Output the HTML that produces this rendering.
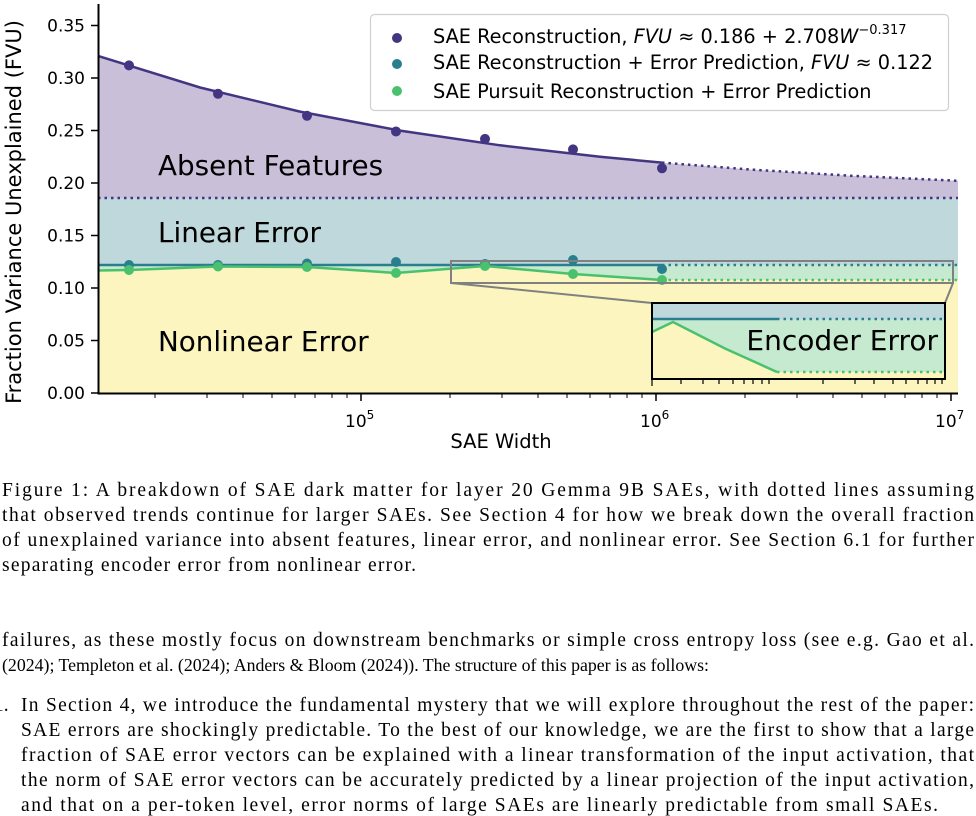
<!DOCTYPE html>
<html><head><meta charset="utf-8"><style>
html,body{margin:0;padding:0;background:#fff;width:976px;height:816px;overflow:hidden}
svg{display:block}
.t{font-family:"DejaVu Sans","Liberation Sans",sans-serif;fill:#000}
.s{font-family:"Liberation Serif",serif;font-size:19.5px;fill:#000}
</style></head><body>
<svg width="976" height="816" viewBox="0 0 976 816" xmlns="http://www.w3.org/2000/svg">
<path d="M98,55.9 L200,87.5 L300,111.6 L400,130.6 L500,145.3 L600,156.8 L662,162.6 L750,169.5 L850,175.7 L958,180.8 L958,198 L98,198 Z" fill="#c9bfd9"/>
<rect x="98" y="198" width="860" height="67" fill="#bfd8dc"/>
<path d="M98,265 L958,265 L958,280 L662,280 L573,274 L485,266 L396,273 L307,267 L218,266.5 L129,270 L98,270.5 Z" fill="#c5ead0"/>
<path d="M98,270.5 L129,270 L218,266.5 L307,267 L396,273 L485,266 L573,274 L662,280 L958,280 L958,393 L98,393 Z" fill="#fcf5bf"/>
<path d="M98,55.9 L200,87.5 L300,111.6 L400,130.6 L500,145.3 L600,156.8 L662,162.6" fill="none" stroke="#433582" stroke-width="2.5"/>
<path d="M662,162.6 L750,169.5 L850,175.7 L958,180.8" fill="none" stroke="#433582" stroke-width="2.5" stroke-dasharray="2.5,4"/>
<line x1="98" y1="198" x2="958" y2="198" stroke="#433582" stroke-width="2.5" stroke-dasharray="2.5,4"/>
<line x1="98" y1="265" x2="662" y2="265" stroke="#2a7f8e" stroke-width="2.5"/>
<line x1="662" y1="265" x2="958" y2="265" stroke="#2a7f8e" stroke-width="2.5" stroke-dasharray="2.5,4"/>
<path d="M98,270.5 L129,270 L218,266.5 L307,267 L396,273 L485,266 L573,274 L662,280" fill="none" stroke="#4ac16d" stroke-width="2.5"/>
<line x1="662" y1="280" x2="958" y2="280" stroke="#4ac16d" stroke-width="2.5" stroke-dasharray="2.5,4"/>
<g fill="#433582">
<circle cx="129" cy="65.4" r="5"/><circle cx="218" cy="93.8" r="5"/><circle cx="307" cy="115.8" r="5"/><circle cx="396" cy="131.5" r="5"/><circle cx="485" cy="138.9" r="5"/><circle cx="573" cy="149.4" r="5"/><circle cx="662" cy="168.3" r="5"/>
</g>
<g fill="#2a7f8e">
<circle cx="129" cy="265" r="5"/><circle cx="218" cy="265" r="5"/><circle cx="307" cy="263.5" r="5"/><circle cx="396" cy="262" r="5"/><circle cx="485" cy="264" r="5"/><circle cx="573" cy="260" r="5"/><circle cx="662" cy="269" r="5"/>
</g>
<g fill="#4ac16d">
<circle cx="129" cy="270" r="5"/><circle cx="218" cy="266.5" r="5"/><circle cx="307" cy="267" r="5"/><circle cx="396" cy="273" r="5"/><circle cx="485" cy="266" r="5"/><circle cx="573" cy="274" r="5"/><circle cx="662" cy="280" r="5"/>
</g>
<rect x="451" y="261" width="502" height="22" fill="none" stroke="#808080" stroke-width="2"/>
<line x1="451" y1="283" x2="652" y2="303" stroke="#808080" stroke-width="2"/>
<line x1="953" y1="283" x2="945" y2="303" stroke="#808080" stroke-width="2"/>
<rect x="652" y="303" width="293" height="76" fill="#c5ead0"/>
<rect x="652" y="303" width="293" height="16.5" fill="#bfd8dc"/>
<path d="M652,332 L673,322 L725,348.5 L777,372 L945,372 L945,379 L652,379 Z" fill="#fcf5bf"/>
<line x1="652" y1="319" x2="777" y2="319" stroke="#2a7f8e" stroke-width="2.5"/>
<line x1="777" y1="319" x2="945" y2="319" stroke="#2a7f8e" stroke-width="2.5" stroke-dasharray="2.5,4"/>
<path d="M652,332 L673,322 L725,348.5 L777,372" fill="none" stroke="#4ac16d" stroke-width="2.5"/>
<line x1="777" y1="372" x2="945" y2="372" stroke="#4ac16d" stroke-width="2.5" stroke-dasharray="2.5,4"/>
<text x="938" y="350" text-anchor="end" class="t" font-size="28">Encoder Error</text>
<rect x="652" y="303" width="293" height="76" fill="none" stroke="#000" stroke-width="2"/>
<g stroke="#000" stroke-width="1.2">
<line x1="652" y1="379" x2="652" y2="386"/><line x1="681" y1="379" x2="681" y2="384"/><line x1="703" y1="379" x2="703" y2="384"/><line x1="719" y1="379" x2="719" y2="384"/><line x1="733" y1="379" x2="733" y2="384"/><line x1="744" y1="379" x2="744" y2="384"/><line x1="753" y1="379" x2="753" y2="384"/><line x1="762" y1="379" x2="762" y2="384"/><line x1="769" y1="379" x2="769" y2="384"/><line x1="823" y1="379" x2="823" y2="384"/><line x1="855" y1="379" x2="855" y2="384"/><line x1="874" y1="379" x2="874" y2="384"/><line x1="893" y1="379" x2="893" y2="384"/><line x1="906" y1="379" x2="906" y2="384"/><line x1="918" y1="379" x2="918" y2="384"/><line x1="927" y1="379" x2="927" y2="384"/><line x1="935" y1="379" x2="935" y2="384"/><line x1="942" y1="379" x2="942" y2="384"/>
</g>
<text x="158" y="175" class="t" font-size="27.8">Absent Features</text>
<text x="158" y="242" class="t" font-size="27.8">Linear Error</text>
<text x="158" y="351" class="t" font-size="27.8">Nonlinear Error</text>
<line x1="98.5" y1="4" x2="98.5" y2="394" stroke="#000" stroke-width="2"/>
<line x1="97.5" y1="393.5" x2="958" y2="393.5" stroke="#000" stroke-width="2"/>
<g stroke="#000" stroke-width="1.5">
<line x1="91" y1="393" x2="98" y2="393"/><line x1="91" y1="340.5" x2="98" y2="340.5"/><line x1="91" y1="288" x2="98" y2="288"/><line x1="91" y1="235.5" x2="98" y2="235.5"/><line x1="91" y1="183" x2="98" y2="183"/><line x1="91" y1="130.5" x2="98" y2="130.5"/><line x1="91" y1="78" x2="98" y2="78"/><line x1="91" y1="25.5" x2="98" y2="25.5"/>
<line x1="361" y1="394" x2="361" y2="401"/><line x1="656" y1="394" x2="656" y2="401"/><line x1="951" y1="394" x2="951" y2="401"/>
</g>
<g stroke="#000" stroke-width="1">
<line x1="155" y1="394" x2="155" y2="398"/><line x1="207" y1="394" x2="207" y2="398"/><line x1="243" y1="394" x2="243" y2="398"/><line x1="272" y1="394" x2="272" y2="398"/><line x1="295" y1="394" x2="295" y2="398"/><line x1="315" y1="394" x2="315" y2="398"/><line x1="332" y1="394" x2="332" y2="398"/><line x1="347" y1="394" x2="347" y2="398"/>
<line x1="450" y1="394" x2="450" y2="398"/><line x1="502" y1="394" x2="502" y2="398"/><line x1="538" y1="394" x2="538" y2="398"/><line x1="567" y1="394" x2="567" y2="398"/><line x1="590" y1="394" x2="590" y2="398"/><line x1="610" y1="394" x2="610" y2="398"/><line x1="627" y1="394" x2="627" y2="398"/><line x1="642" y1="394" x2="642" y2="398"/>
<line x1="745" y1="394" x2="745" y2="398"/><line x1="797" y1="394" x2="797" y2="398"/><line x1="833" y1="394" x2="833" y2="398"/><line x1="862" y1="394" x2="862" y2="398"/><line x1="885" y1="394" x2="885" y2="398"/><line x1="905" y1="394" x2="905" y2="398"/><line x1="922" y1="394" x2="922" y2="398"/><line x1="937" y1="394" x2="937" y2="398"/>
</g>
<g class="t" font-size="17" text-anchor="end">
<text x="85" y="399">0.00</text><text x="85" y="346.5">0.05</text><text x="85" y="294">0.10</text><text x="85" y="241.5">0.15</text><text x="85" y="189">0.20</text><text x="85" y="136.5">0.25</text><text x="85" y="84">0.30</text><text x="85" y="31.5">0.35</text>
</g>
<g class="t" font-size="17">
<text x="345" y="427">10<tspan font-size="12" dy="-8">5</tspan></text>
<text x="640" y="427">10<tspan font-size="12" dy="-8">6</tspan></text>
<text x="935" y="427">10<tspan font-size="12" dy="-8">7</tspan></text>
</g>
<text x="501" y="448" text-anchor="middle" class="t" font-size="19.5">SAE Width</text>
<text transform="translate(21,212) rotate(-90)" text-anchor="middle" class="t" font-size="21">Fraction Variance Unexplained (FVU)</text>
<rect x="370.5" y="14.5" width="578" height="96" rx="4" fill="#fff" fill-opacity="0.85" stroke="#d0d0d0" stroke-width="1.2"/>
<circle cx="397" cy="38" r="5" fill="#433582"/>
<circle cx="397" cy="64" r="5" fill="#2a7f8e"/>
<circle cx="397" cy="91" r="5" fill="#4ac16d"/>
<g class="t" font-size="19.3">
<text x="433" y="43">SAE Reconstruction, <tspan font-style="italic">FVU</tspan> ≈ 0.186 + 2.708<tspan font-style="italic">W</tspan><tspan font-size="13" dy="-9">−0.317</tspan></text>
<text x="433" y="69">SAE Reconstruction + Error Prediction, <tspan font-style="italic">FVU</tspan> ≈ 0.122</text>
<text x="433" y="98">SAE Pursuit Reconstruction + Error Prediction</text>
</g>
<g class="s">
<text x="2" y="496" textLength="972" lengthAdjust="spacing">Figure 1:  A breakdown of SAE dark matter for layer 20 Gemma 9B SAEs, with dotted lines assuming</text>
<text x="2" y="521" textLength="972" lengthAdjust="spacing">that observed trends continue for larger SAEs.  See Section 4 for how we break down the overall fraction</text>
<text x="2" y="546" textLength="972" lengthAdjust="spacing">of unexplained variance into absent features, linear error, and nonlinear error.  See Section 6.1 for further</text>
<text x="2" y="571" textLength="414" lengthAdjust="spacing">separating encoder error from nonlinear error.</text>
<text x="2" y="646" textLength="972" lengthAdjust="spacing">failures, as these mostly focus on downstream benchmarks or simple cross entropy loss (see e.g. Gao et al.</text>
<text x="2" y="671" font-size="18" textLength="707" lengthAdjust="spacingAndGlyphs">(2024); Templeton et al. (2024); Anders &amp; Bloom (2024)).  The structure of this paper is as follows:</text>
<text x="-6" y="711">1.</text>
<text x="21" y="711" textLength="953" lengthAdjust="spacing">In Section 4, we introduce the fundamental mystery that we will explore throughout the rest of the paper:</text>
<text x="21" y="736" textLength="953" lengthAdjust="spacing">SAE errors are shockingly predictable.  To the best of our knowledge, we are the first to show that a large</text>
<text x="21" y="761" textLength="953" lengthAdjust="spacing">fraction of SAE error vectors can be explained with a linear transformation of the input activation, that</text>
<text x="21" y="786" textLength="953" lengthAdjust="spacing">the norm of SAE error vectors can be accurately predicted by a linear projection of the input activation,</text>
<text x="21" y="811" textLength="917" lengthAdjust="spacing">and that on a per-token level, error norms of large SAEs are linearly predictable from small SAEs.</text>
</g>
</svg>
</body></html>
